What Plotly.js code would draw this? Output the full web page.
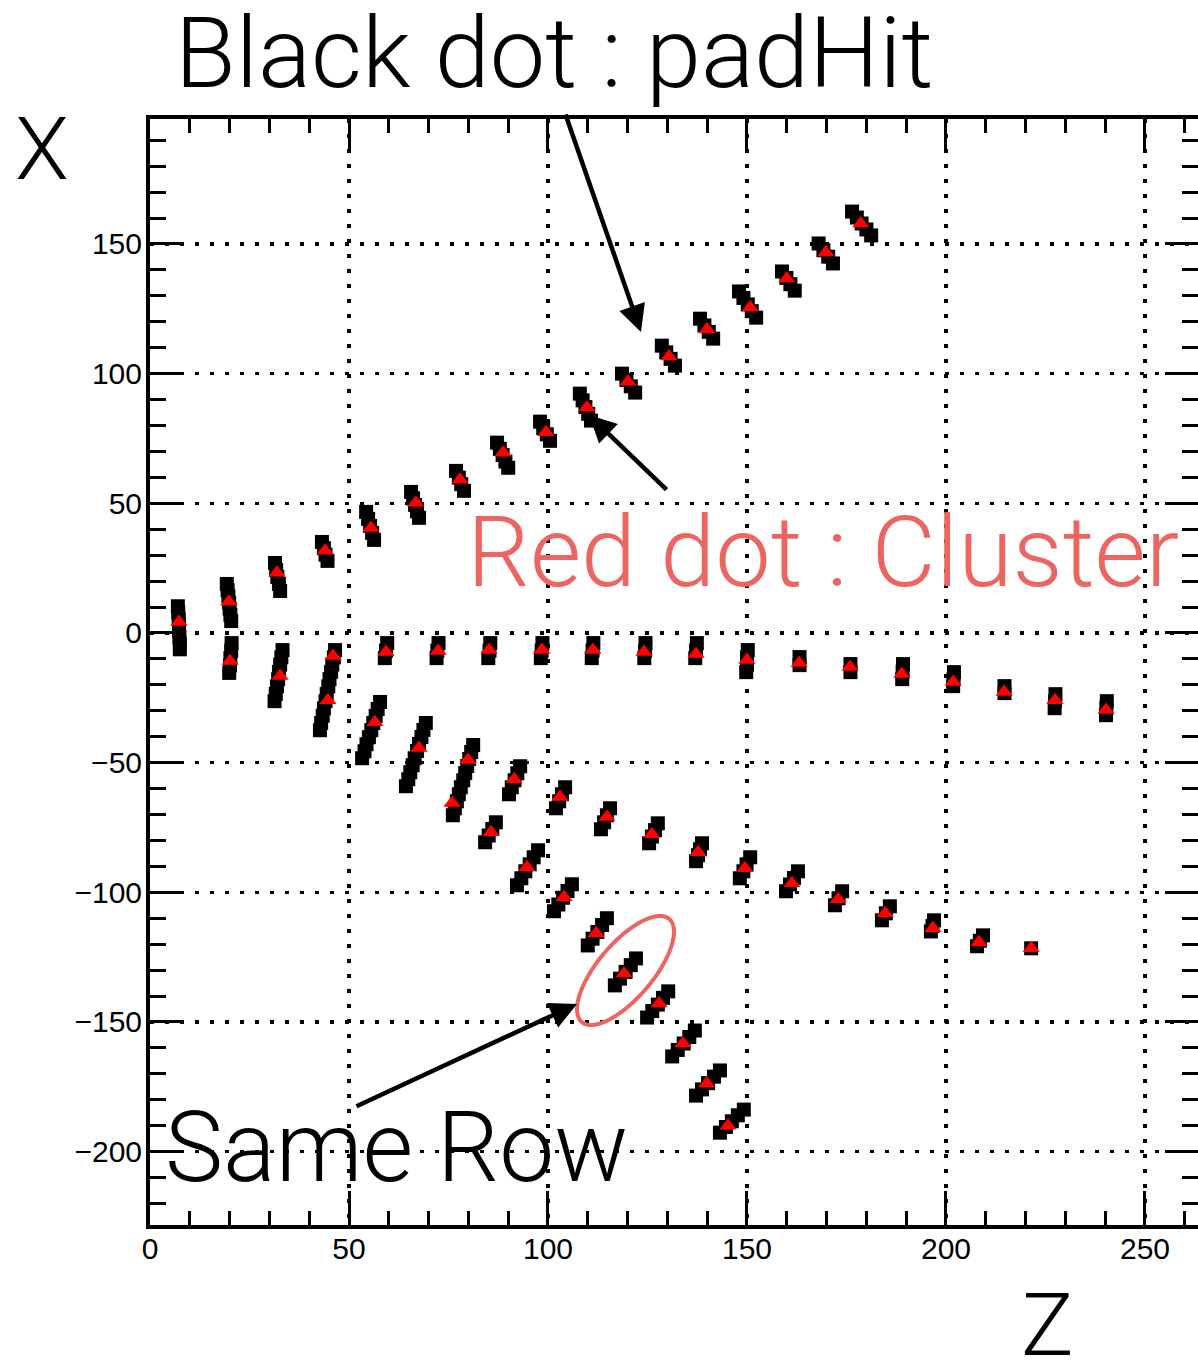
<!DOCTYPE html>
<html><head><meta charset="utf-8">
<script src="https://cdn.plot.ly/plotly-3.0.1.min.js"></script>
<style>html,body{margin:0;padding:0;background:#fff;} #chart{width:1198px;height:1361px;}</style>
</head><body><div id="chart"></div>
<script>
// ---------- data ----------
// pad hits (black squares), grouped by track
var upperHitZ = [7.0,7.1,7.2,7.3,7.3,7.4,7.5,7.5,
  19.3,19.5,19.7,19.9,20.0,20.2,20.4,
  31.4,31.7,32.0,32.4,32.7,
  43.2,43.7,44.1,44.6,
  54.3,54.8,55.3,55.8,56.3,
  65.6,66.1,66.6,67.1,67.6,
  76.9,77.6,78.2,78.9,
  87.2,87.9,88.6,89.3,90.0,
  98.0,98.8,99.7,100.5,
  108.0,108.7,109.4,110.1,110.8,
  118.6,119.7,120.8,121.9,
  128.6,129.7,130.8,131.9,
  138.2,139.3,140.4,141.5,
  148.0,149.1,150.2,151.2,152.3,
  158.8,159.9,160.9,162.0,
  168.0,169.2,170.4,171.6,
  176.4,177.6,178.8,180.0,181.2];
var upperHitX = [10.3,7.9,5.5,3.1,0.7,-1.7,-4.1,-6.3,
  18.9,16.5,14.1,11.7,9.4,7.0,4.6,
  27.0,24.3,21.6,18.9,16.2,
  35.1,32.7,30.2,27.8,
  46.7,44.0,41.3,38.6,35.9,
  54.4,51.9,49.4,46.9,44.4,
  62.5,59.9,57.4,54.8,
  73.4,71.0,68.6,66.1,63.7,
  81.5,79.0,76.6,74.1,
  92.3,89.7,87.1,84.5,81.9,
  100.0,97.6,95.1,92.7,
  110.8,108.2,105.7,103.1,
  121.2,118.6,116.1,113.5,
  131.7,129.2,126.7,124.1,121.6,
  139.4,136.9,134.5,132.0,
  150.2,147.6,145.1,142.5,
  162.5,160.2,157.9,155.6,153.3];

var flatHitZ = [59.6,59.3,59.0, 72.5,72.2,72.0, 85.5,85.3,85.0, 98.6,98.4,98.2,
  111.4,111.2,111.0, 124.5,124.4,124.2, 137.4,137.2,137.0,
  150.2,150.0,150.0,149.8, 163.2,163.2, 176.0,176.0,
  189.2,189.1,189.0, 202.0,201.9,201.8, 214.7,214.7,
  227.5,227.4,227.3, 240.4,240.3,240.2];
var flatHitX = [-3.9,-6.8,-9.7, -3.9,-6.8,-9.7, -3.9,-6.8,-9.7, -3.9,-6.8,-9.7,
  -3.9,-6.8,-9.7, -3.9,-6.8,-9.7, -3.9,-6.8,-9.7,
  -6.6,-9.4,-12.2,-15.1, -9.3,-12.4, -12.0,-15.1,
  -12.0,-14.9,-17.8, -15.1,-17.8,-20.5, -20.5,-23.2,
  -23.6,-26.3,-29.0, -26.3,-29.0,-31.7];

var lowerAHitZ = [20.5,20.4,20.2,20.1,19.9,
  33.3,33.0,32.7,32.4,32.2,31.9,31.6,31.3,
  46.5,46.2,45.8,45.5,45.1,44.8,44.4,44.1,43.7,43.4,43.0,42.7,
  57.8,57.2,56.7,56.1,55.6,55.0,54.4,53.9,53.3,
  69.3,68.7,68.2,67.6,67.1,66.5,66.0,65.4,64.9,64.3,
  81.2,80.7,80.2,79.7,79.2,78.7,78.1,77.6,77.1,76.6,76.1,
  93.0,92.3,91.6,90.9,90.2,
  104.3,103.5,102.8,102.0,
  115.6,114.8,114.1,113.3,
  127.6,126.9,126.1,125.4,
  138.7,138.2,137.7,137.2,
  150.8,149.9,149.1,148.2,
  162.8,161.8,160.8,159.8,
  173.9,173.0,172.1,
  185.9,184.9,183.9,
  197.0,196.6,196.2,
  209.3,208.5,207.8,
  221.4];
var lowerAHitX = [-3.9,-6.8,-9.7,-12.6,-15.4,
  -6.6,-9.4,-12.2,-15.0,-17.8,-20.6,-23.5,-26.3,
  -6.6,-9.4,-12.2,-15.0,-17.8,-20.6,-23.5,-26.3,-29.1,-31.9,-34.7,-37.5,
  -26.6,-29.3,-32.0,-34.7,-37.5,-40.2,-42.9,-45.6,-48.3,
  -34.7,-37.4,-40.1,-42.8,-45.5,-48.3,-51.0,-53.7,-56.4,-59.1,
  -43.2,-45.9,-48.6,-51.3,-54.0,-56.8,-59.5,-62.2,-64.9,-67.6,-70.3,
  -51.4,-54.1,-56.8,-59.5,-62.2,
  -59.5,-62.2,-64.9,-67.6,
  -67.6,-70.3,-73.0,-75.7,
  -73.4,-76.0,-78.5,-81.1,
  -81.1,-83.4,-85.7,-88.0,
  -86.5,-89.2,-91.9,-94.6,
  -91.9,-94.5,-97.0,-99.6,
  -99.6,-102.3,-105.0,
  -105.4,-108.1,-110.8,
  -110.8,-113.0,-115.1,
  -116.6,-118.7,-120.8,
  -121.6];

var lowerBHitZ = [86.9,86.0,85.1,84.2,
  97.5,96.4,95.4,94.3,93.3,92.2,
  106.0,104.9,103.8,102.6,101.5,
  114.8,113.6,112.4,111.2,110.0,
  122.1,120.8,119.5,118.1,116.8,
  130.2,128.9,127.6,126.2,124.9,
  136.9,135.5,134.1,132.6,131.2,
  143.2,141.7,140.2,138.7,137.2,
  149.2,147.7,146.2,144.7,143.2];
var lowerBHitX = [-73.0,-75.6,-78.1,-80.7,
  -83.8,-86.5,-89.2,-91.9,-94.6,-97.3,
  -96.9,-99.5,-102.1,-104.7,-107.3,
  -110.0,-112.6,-115.3,-117.9,-120.5,
  -125.5,-128.1,-130.7,-133.3,-135.9,
  -138.2,-140.7,-143.3,-145.8,-148.3,
  -153.3,-155.8,-158.3,-160.8,-163.3,
  -168.7,-171.1,-173.6,-176.0,-178.4,
  -183.8,-186.0,-188.3,-190.5,-192.7];

// clusters (red triangles)
var upperClZ = [7.3,19.8,31.9,44.0,55.5,66.8,77.9,88.7,99.5,109.8,120.1,130.4,140.0,150.8,160.0,169.8,178.6];
var upperClX = [4.2,12.0,23.2,31.7,40.5,50.2,59.1,69.5,77.4,86.9,96.9,106.6,117.0,125.5,136.7,146.7,157.9];
var flatClZ = [46.0,59.3,72.4,85.2,98.5,111.3,124.1,137.2,150.0,163.1,175.9,188.9,201.8,214.6,227.4,240.2];
var flatClX = [-8.9,-7.3,-7.0,-6.6,-6.6,-6.6,-7.3,-8.1,-10.4,-11.6,-13.1,-15.8,-18.9,-22.8,-25.9,-29.7];
var lowerAClZ = [20.1,32.7,44.7,56.5,67.6,79.9,91.5,103.0,114.8,126.1,137.7,149.5,161.3,172.9,184.7,196.7,208.3,221.4];
var lowerAClX = [-10.8,-16.6,-25.9,-34.4,-44.4,-49.0,-56.4,-63.3,-71.0,-77.6,-84.6,-90.7,-96.5,-102.7,-108.1,-113.9,-119.3,-121.6];
var lowerBClZ = [75.9,85.7,94.7,104.0,112.1,119.1,127.9,133.9,139.9,145.2];
var lowerBClX = [-65.6,-76.8,-90.3,-101.9,-115.8,-131.3,-142.9,-158.3,-173.7,-190.0];

var xTickVals = [0,50,100,150,200,250];
var xTickText = ['0','50','100','150','200','250'];
var yTickVals = [-200,-150,-100,-50,0,50,100,150];
var yTickText = ['\u2212200','\u2212150','\u2212100','\u221250','0','50','100','150'];

// ---------- layout geometry ----------
var XR = [0, 263.32], YR = [-228.3, 198.2];
var L = 150, T = 119, W = 1048, H = 1106;
function pz(px){ return XR[0] + (px - L) / W * (XR[1] - XR[0]); }
function py(pyy){ return YR[1] - (pyy - T) / H * (YR[1] - YR[0]); }
function paperX(px){ return (px - L) / W; }
function paperY(pyy){ return (T + H - pyy) / H; }

var RED = '#EC6560';
function hitTrace(z, x){ return {x:z, y:x, type:'scatter', mode:'markers', hoverinfo:'skip',
  marker:{symbol:'square', size:14, color:'#000', line:{width:0}}}; }
function clTrace(z, x){ return {x:z, y:x, type:'scatter', mode:'markers', hoverinfo:'skip',
  marker:{symbol:'triangle-up', size:15, color:'#FF0000', line:{width:0}}}; }

var data = [hitTrace(upperHitZ, upperHitX), hitTrace(flatHitZ, flatHitX),
  hitTrace(lowerAHitZ, lowerAHitX), hitTrace(lowerBHitZ, lowerBHitX),
  clTrace(upperClZ, upperClX), clTrace(flatClZ, flatClX),
  clTrace(lowerAClZ, lowerAClX), clTrace(lowerBClZ, lowerBClX)];

// ellipse around "same row" cluster (pixel geometry -> data)
var ec = [625.5, 970.5], ea = 67.6, eb = 27.5, eth = 49.7 * Math.PI / 180;
var path = '';
for (var i = 0; i <= 72; i++) {
  var t = i / 72 * 2 * Math.PI;
  var qx = ec[0] + ea * Math.cos(t) * Math.cos(eth) + eb * Math.sin(t) * Math.sin(eth);
  var qy = ec[1] - ea * Math.cos(t) * Math.sin(eth) + eb * Math.sin(t) * Math.cos(eth);
  path += (i === 0 ? 'M' : 'L') + pz(qx).toFixed(3) + ',' + py(qy).toFixed(3);
}
path += 'Z';

var ROBOTO = 'Roboto, "Liberation Sans", Arial, sans-serif';
function txt(text, px, pyy, size, color){
  return {text:text, xref:'paper', yref:'paper', x:paperX(px), y:paperY(pyy),
    xanchor:'left', yanchor:'middle', showarrow:false, borderpad:0,
    font:{family:ROBOTO, weight:300, size:size, color:color || '#000'}};
}
function arrow(tipX, tipY, tailX, tailY){
  return {text:'', xref:'x', yref:'y', x:pz(tipX), y:py(tipY), ax:tailX - tipX, ay:tailY - tipY,
    showarrow:true, arrowhead:2, arrowsize:1.2, arrowwidth:4.5, arrowcolor:'#000', standoff:0};
}

var axisCommon = {
  ticks:'inside', tickcolor:'#000', tickwidth:3, showline:true, linecolor:'#000', linewidth:4,
  mirror:'allticks', showgrid:true, gridcolor:'#000', gridwidth:3.5, griddash:'4px,11px',
  zeroline:false, tickfont:{family:'"Liberation Sans", Arial, sans-serif', size:30, color:'#000'},
  fixedrange:true, tickmode:'array'
};

var layout = {
  width:1198, height:1361, margin:{l:L, r:1198 - L - W, t:T, b:1361 - T - H, pad:0},
  paper_bgcolor:'#fff', plot_bgcolor:'#fff', showlegend:false,
  xaxis: Object.assign({}, axisCommon, {range:XR, tickvals:xTickVals, ticktext:xTickText, ticklen:34,
    ticklabelstandoff:-6,
    minor:{dtick:10, tick0:0, ticks:'inside', ticklen:14, tickwidth:3, tickcolor:'#000', showgrid:false}}),
  yaxis: Object.assign({}, axisCommon, {range:YR, tickvals:yTickVals, ticktext:yTickText, ticklen:33,
    ticklabelstandoff:-2,
    minor:{dtick:10, tick0:0, ticks:'inside', ticklen:16, tickwidth:3, tickcolor:'#000', showgrid:false}}),
  shapes:[{type:'path', xref:'x', yref:'y', path:path, line:{color:RED, width:4}, fillcolor:'rgba(0,0,0,0)', layer:'above'}],
  annotations:[
    txt('Black dot : padHit', 174, 53, 99),
    txt('X', 14, 149, 88),
    txt('Z', 1020, 1324, 88),
    txt('Red dot : Cluster', 466, 552, 99, RED),
    txt('Same Row', 164, 1147, 98),
    arrow(641, 332, 565, 113),
    arrow(589, 415, 668, 491),
    arrow(577, 1004, 355, 1107)
  ]
};

Plotly.newPlot('chart', data, layout, {staticPlot:true, displayModeBar:false});
</script></body></html>
